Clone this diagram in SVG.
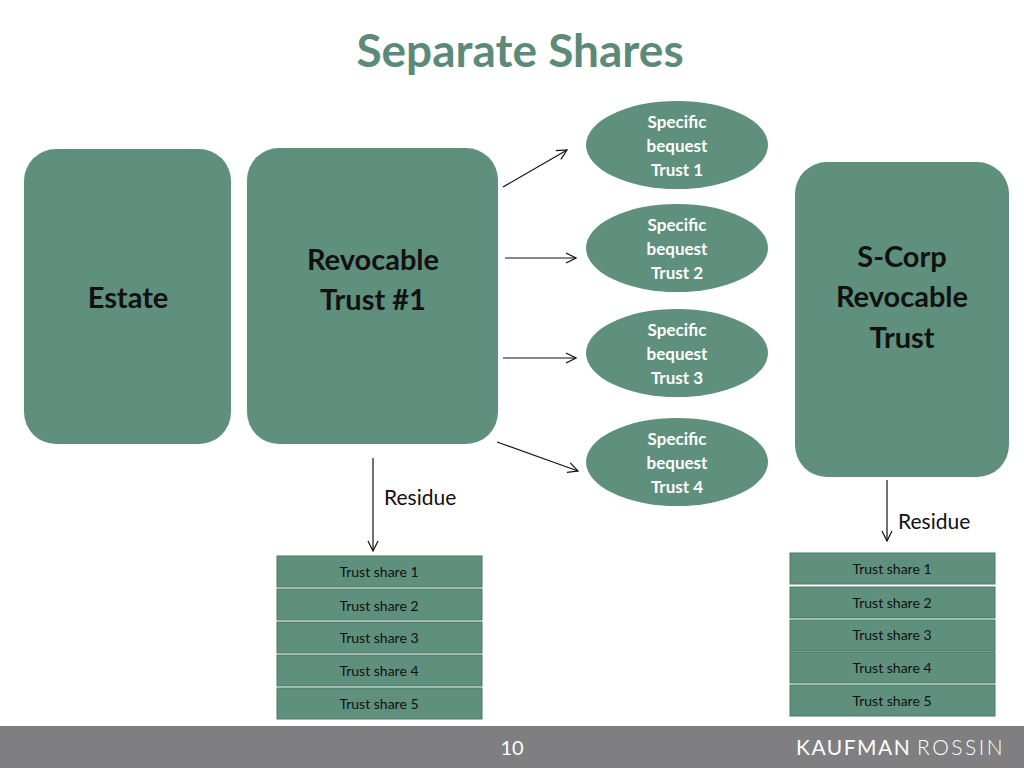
<svg xmlns="http://www.w3.org/2000/svg" width="1024" height="768" viewBox="0 0 1024 768">
<style>
.n{fill:#5f8f7d}
.big{font-family:Lato,"Liberation Sans",sans-serif;font-weight:bold;font-size:29px;fill:#111;text-anchor:middle}
.el{font-family:Lato,"Liberation Sans",sans-serif;font-weight:bold;font-size:17px;fill:#fff;text-anchor:middle}
.ts{font-family:Lato,"Liberation Sans",sans-serif;font-size:14px;fill:#111;text-anchor:middle}
.res{font-family:Lato,"Liberation Sans",sans-serif;font-size:21px;fill:#111}
.c{stroke:#111;stroke-width:1.2;fill:none;marker-end:url(#a)}
.sh{fill:#5f8f7d;stroke:#4d7a69;stroke-width:1}
</style>
<defs>
<marker id="a" markerWidth="12" markerHeight="12" refX="11" refY="6" orient="auto" markerUnits="userSpaceOnUse"><path d="M1,1 L11,6 L1,11" fill="none" stroke="#111" stroke-width="1.2"/></marker>
</defs>
<rect width="1024" height="768" fill="#fff"/>
<text x="520" y="67" font-family="Lato,'Liberation Sans',sans-serif" font-weight="bold" font-size="46" fill="#5b8b78" text-anchor="middle">Separate Shares</text>
<g id="estate"><rect class="n" x="24" y="149" width="207" height="295" rx="32"/><text class="big" x="128" y="308">Estate</text></g>
<g id="revocable"><rect class="n" x="247" y="148" width="251" height="296" rx="32"/><text class="big" x="373" y="270">Revocable</text><text class="big" x="373" y="310">Trust #1</text></g>
<g id="scorp"><rect class="n" x="795" y="162" width="214" height="315" rx="32"/><text class="big" x="902" y="267">S-Corp</text><text class="big" x="902" y="307">Revocable</text><text class="big" x="902" y="348">Trust</text></g>
<g id="b1"><ellipse class="n" cx="677" cy="145" rx="91" ry="44"/><text class="el" x="677" y="128">Specific</text><text class="el" x="677" y="152">bequest</text><text class="el" x="677" y="176">Trust 1</text></g>
<g id="b2"><ellipse class="n" cx="677" cy="248" rx="91" ry="44"/><text class="el" x="677" y="231">Specific</text><text class="el" x="677" y="255">bequest</text><text class="el" x="677" y="279">Trust 2</text></g>
<g id="b3"><ellipse class="n" cx="677" cy="353" rx="91" ry="44"/><text class="el" x="677" y="336">Specific</text><text class="el" x="677" y="360">bequest</text><text class="el" x="677" y="384">Trust 3</text></g>
<g id="b4"><ellipse class="n" cx="677" cy="462" rx="91" ry="44"/><text class="el" x="677" y="445">Specific</text><text class="el" x="677" y="469">bequest</text><text class="el" x="677" y="493">Trust 4</text></g>
<g id="connectors">
<line class="c" x1="503" y1="187" x2="567" y2="150"/>
<line class="c" x1="505" y1="258" x2="576" y2="258"/>
<line class="c" x1="503" y1="358" x2="576" y2="358"/>
<line class="c" x1="497" y1="442" x2="578" y2="471"/>
<line class="c" x1="373" y1="458" x2="373" y2="551"/>
<line class="c" x1="887" y1="480" x2="887" y2="541"/>
</g>
<text class="res" x="384" y="505">Residue</text>
<text class="res" x="898" y="529">Residue</text>
<g id="left-shares">
<rect class="sh" x="277" y="556" width="205" height="31"/><text class="ts" x="379" y="577">Trust share 1</text>
<rect class="sh" x="277" y="589" width="205" height="31"/><text class="ts" x="379" y="611">Trust share 2</text>
<rect class="sh" x="277" y="622" width="205" height="31"/><text class="ts" x="379" y="643">Trust share 3</text>
<rect class="sh" x="277" y="655" width="205" height="31"/><text class="ts" x="379" y="676">Trust share 4</text>
<rect class="sh" x="277" y="688" width="205" height="31"/><text class="ts" x="379" y="709">Trust share 5</text>
</g>
<g id="right-shares">
<rect class="sh" x="790" y="553" width="205" height="31"/><text class="ts" x="892" y="574">Trust share 1</text>
<rect class="sh" x="790" y="587" width="205" height="31"/><text class="ts" x="892" y="608">Trust share 2</text>
<rect class="sh" x="790" y="620" width="205" height="31"/><text class="ts" x="892" y="640">Trust share 3</text>
<rect class="sh" x="790" y="652" width="205" height="31"/><text class="ts" x="892" y="673">Trust share 4</text>
<rect class="sh" x="790" y="685" width="205" height="31"/><text class="ts" x="892" y="706">Trust share 5</text>
</g>
<rect x="0" y="726" width="1024" height="42" fill="#7f7e80"/>
<text x="512" y="755" font-family="Lato,'Liberation Sans',sans-serif" font-size="20" fill="#fff" text-anchor="middle">10</text>
<text x="796" y="755" font-family="Lato,'Liberation Sans',sans-serif" font-size="21" fill="#fff" letter-spacing="1.5">KAUFMAN</text>
<text x="917" y="755" font-family="Lato,'Liberation Sans',sans-serif" font-weight="300" font-size="21" fill="#fff" letter-spacing="2.5">ROSSIN</text>
</svg>
